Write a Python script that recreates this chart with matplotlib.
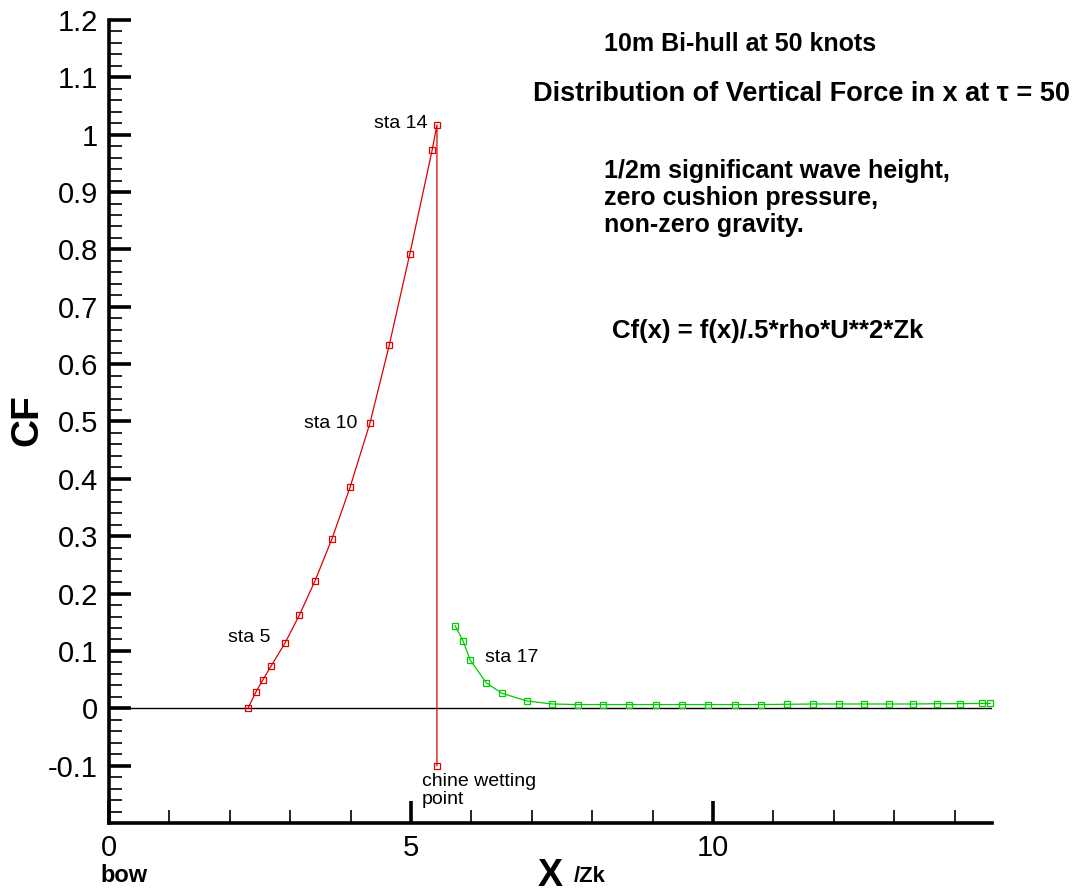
import numpy as np
import matplotlib
matplotlib.use("Agg")
from matplotlib import pyplot as plt
from matplotlib.ticker import MultipleLocator, FormatStrFormatter

# red curve: bow to sta 14, then drop at chine wetting point
red_x = [2.30, 2.43, 2.55, 2.68, 2.91, 3.15, 3.41, 3.69, 3.99, 4.32,
         4.64, 4.98, 5.35, 5.43, 5.43]
red_y = [0.0, 0.028, 0.050, 0.073, 0.113, 0.162, 0.222, 0.295, 0.385, 0.497,
         0.633, 0.792, 0.973, 1.017, -0.100]

# green curve: aft of the chine wetting point
green_x = [5.73, 5.86, 5.98, 6.25, 6.51, 6.92, 7.34, 7.76, 8.18, 8.61,
           9.05, 9.49, 9.92, 10.36, 10.79, 11.23, 11.66, 12.09, 12.50, 12.91,
           13.32, 13.71, 14.09, 14.46, 14.59]
green_y = [0.144, 0.118, 0.084, 0.044, 0.026, 0.0127, 0.0075, 0.0065, 0.0065, 0.0065,
           0.0065, 0.0065, 0.0065, 0.0065, 0.0065, 0.007, 0.0075, 0.0075, 0.0075, 0.0075,
           0.0075, 0.008, 0.008, 0.0085, 0.0085]

plt.rcParams['font.family'] = ['Liberation Sans', 'DejaVu Sans']

fig = plt.figure(figsize=(10.75, 8.92), dpi=100)
ax = fig.add_axes([109/1075, 69/892, (992-109)/1075, (823-20)/892])

ax.axhline(0, color='black', lw=1.0, zorder=1)
ax.plot(red_x, red_y, color='#e00000', lw=0.9, marker='s', ms=4, mfc='none',
        mew=0.9, clip_on=False, zorder=3)
ax.plot(green_x, green_y, color='#00cc00', lw=0.9, marker='s', ms=4, mfc='none',
        mew=0.9, clip_on=False, zorder=3)

ax.set_xlim(0, 14.62)
ax.set_ylim(-0.2, 1.2)

for s in ['top', 'right']:
    ax.spines[s].set_visible(False)
for s in ['left', 'bottom']:
    ax.spines[s].set_linewidth(2.6)

ax.xaxis.set_major_locator(MultipleLocator(5))
ax.xaxis.set_minor_locator(MultipleLocator(1))
ax.yaxis.set_major_formatter(FormatStrFormatter('%g'))
ax.tick_params(which='major', direction='in', length=16, width=2.6, labelsize=21, pad=8)
ax.tick_params(which='minor', direction='in', length=9.5, width=1.2)
ax.set_yticks(np.round(np.arange(-0.1, 1.21, 0.1), 2))
ax.set_yticks(np.round(np.arange(-0.2, 1.21, 0.02), 2), minor=True)

# annotations
ax.text(5.28, 1.020, 'sta 14', fontsize=14, ha='right', va='center')
ax.text(4.12, 0.497, 'sta 10', fontsize=14, ha='right', va='center')
ax.text(2.68, 0.124, 'sta 5', fontsize=14, ha='right', va='center')
ax.text(6.23, 0.089, 'sta 17', fontsize=14, ha='left', va='center')
ax.text(5.18, -0.113, 'chine wetting\npoint', fontsize=14, ha='left', va='top',
        linespacing=1.05)

fig.text(740/1075, 1 - 44/892, '10m Bi-hull at 50 knots', fontsize=18,
         fontweight='bold', ha='center', va='center')
fig.text(1070/1075, 1 - 94/892, 'Distribution of Vertical Force in x at \u03c4 = 50',
         fontsize=19.5, fontweight='bold', ha='right', va='center')
fig.text(604/1075, 1 - 198/892, '1/2m significant wave height,\nzero cushion pressure,\nnon-zero gravity.',
         fontsize=18, fontweight='bold', ha='left', va='center', linespacing=1.15)
fig.text(612/1075, 1 - 331/892, 'Cf(x) = f(x)/.5*rho*U**2*Zk', fontsize=18.5,
         fontweight='bold', ha='left', va='center')

fig.text(27/1075, 1 - 420/892, 'CF', fontsize=28, fontweight='bold',
         rotation=90, ha='center', va='center')
fig.text(563/1075, 1 - 876/892, 'X', fontsize=27, fontweight='bold',
         ha='right', va='center')
fig.text(574/1075, 1 - 877/892, '/Zk', fontsize=16, fontweight='bold',
         ha='left', va='center')
fig.text(124/1075, 1 - 875/892, 'bow', fontsize=17, fontweight='bold',
         ha='center', va='center')

fig.savefig('out.png', dpi=100)
